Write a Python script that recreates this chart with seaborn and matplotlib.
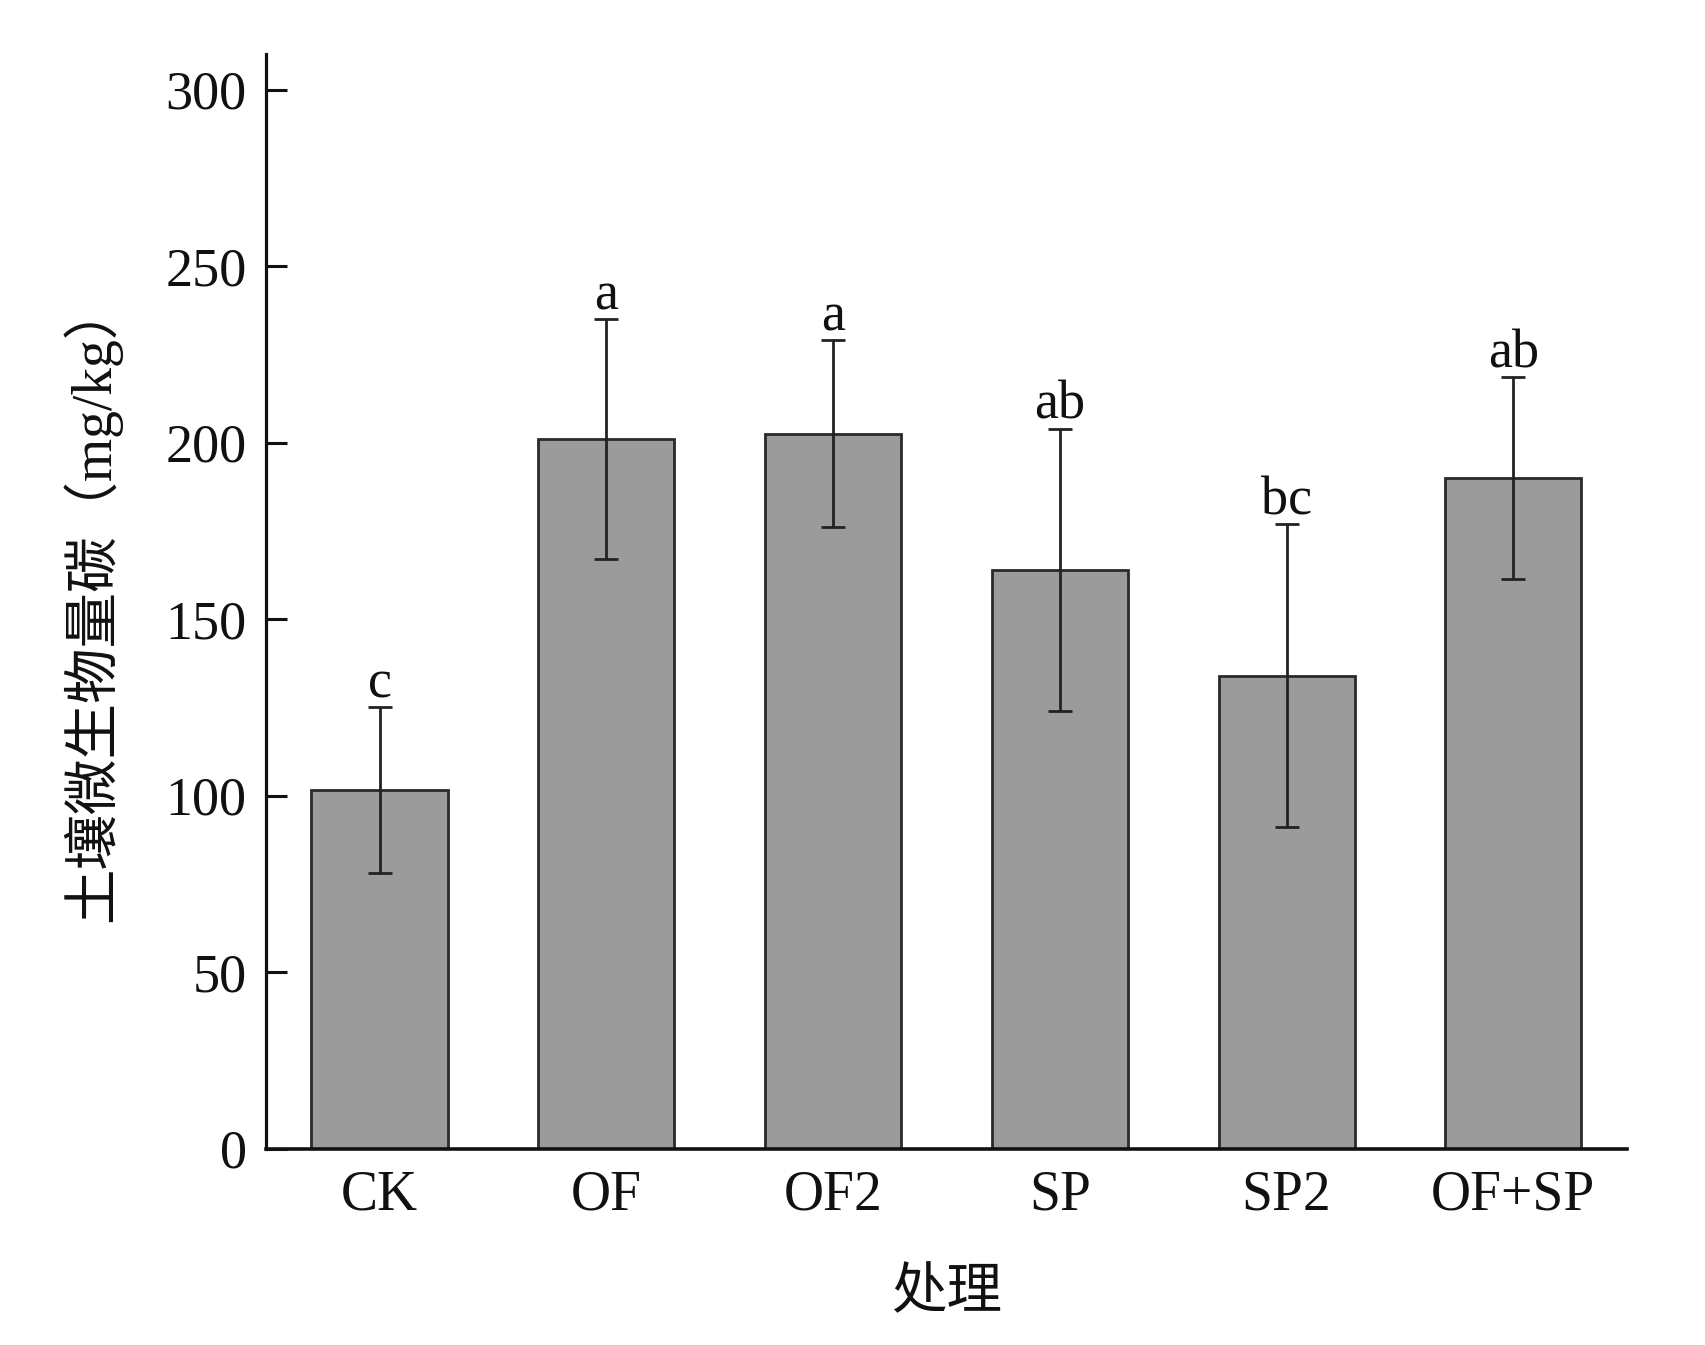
import numpy as np
import pandas as pd
import matplotlib
matplotlib.use("Agg")
import matplotlib.pyplot as plt
import seaborn as sns

# values
treatments = ["CK", "OF", "OF2", "SP", "SP2", "OF+SP"]
mbc_mean = [101.5, 201.0, 202.5, 164.0, 134.0, 190.0]
mbc_err = [23.5, 34.0, 26.5, 40.0, 43.0, 28.5]
sig_letters = ["c", "a", "a", "ab", "bc", "ab"]

sns.set_theme(style="ticks")
plt.rcParams['font.family'] = ['Liberation Serif', 'Noto Sans CJK SC']
plt.rcParams['axes.unicode_minus'] = False

df = pd.DataFrame({"treatment": treatments, "mbc": mbc_mean})

fig = plt.figure(figsize=(17.06, 13.45), dpi=100)
ax = fig.add_axes([0.156, 0.146, 0.7975, 0.8136])

sns.barplot(data=df, x="treatment", y="mbc", order=treatments, color="#9b9b9b",
            saturation=1, width=0.6, edgecolor="#2a2a2a", linewidth=2.0,
            errorbar=None, ax=ax)

ax.errorbar(np.arange(len(treatments)), mbc_mean, yerr=mbc_err, fmt="none",
            ecolor="#222222", elinewidth=2.0, capsize=8.5, capthick=2.0, zorder=3)

for i, (m, e, lab) in enumerate(zip(mbc_mean, mbc_err, sig_letters)):
    ax.annotate(lab, xy=(i, m + e), xytext=(0, 7), textcoords="offset points",
                ha="center", va="baseline", fontsize=39, color="#111111")

ax.set_xlim(-0.5, 5.5)
ax.set_ylim(0, 310)
ax.set_yticks([0, 50, 100, 150, 200, 250, 300])

sns.despine(ax=ax)
ax.spines["left"].set_linewidth(2.3)
ax.spines["bottom"].set_linewidth(2.6)
for side in ["left", "bottom"]:
    ax.spines[side].set_color("#111111")

ax.tick_params(axis="both", direction="in", length=15, width=2.2,
               colors="#111111", labelsize=39, pad=14)
ax.tick_params(axis="x", labelsize=40, pad=15)

ax.set_xlabel("处理", fontsize=40, labelpad=34, color="#111111")
ax.set_ylabel("土壤微生物量碳（mg/kg）", fontsize=40, labelpad=32, color="#111111")

fig.savefig("out.png", dpi=100, facecolor="white")
